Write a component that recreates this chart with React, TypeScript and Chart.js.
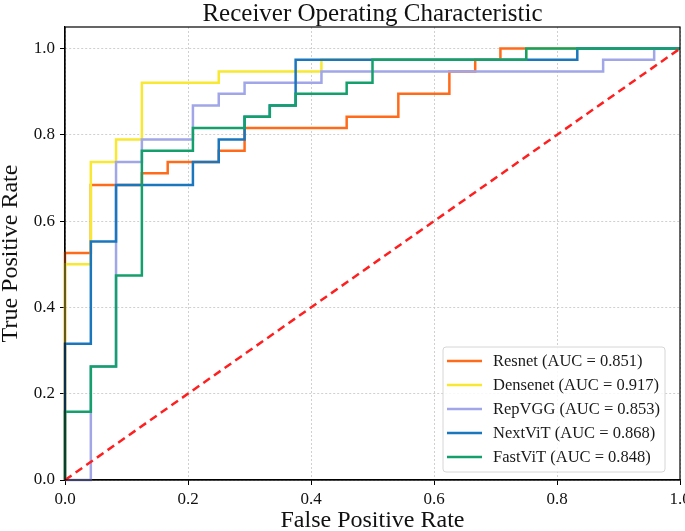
import React, { useEffect, useRef } from "react";
import { Chart, registerables } from "chart.js";

Chart.register(...registerables);

const chartTitle = "Receiver Operating Characteristic";
const modelNames = ["Resnet", "Densenet", "RepVGG", "NextViT", "FastViT"];
const aucValues = ["0.851", "0.917", "0.853", "0.868", "0.848"];
const modelColors = ["#ff6b1a", "#f8e832", "#a0a6e8", "#1a76bd", "#14a06c"];

const resnetFpr = [0, 0, 0.042, 0.125, 0.167, 0.25, 0.292, 0.458, 0.542, 0.625, 0.667, 0.708, 1.0];
const resnetTpr = [0, 0.526, 0.684, 0.711, 0.737, 0.763, 0.816, 0.842, 0.895, 0.947, 0.974, 1.0, 1.0];

const densenetFpr = [0, 0, 0.042, 0.083, 0.125, 0.25, 0.417, 0.75, 1.0];
const densenetTpr = [0, 0.5, 0.737, 0.789, 0.921, 0.947, 0.974, 1.0, 1.0];

const repvggFpr = [0, 0.042, 0.083, 0.125, 0.208, 0.25, 0.292, 0.417, 0.875, 0.958, 1.0];
const repvggTpr = [0, 0.263, 0.737, 0.789, 0.868, 0.895, 0.921, 0.947, 0.974, 1.0, 1.0];

const nextvitFpr = [0, 0, 0.042, 0.083, 0.208, 0.25, 0.292, 0.333, 0.375, 0.833, 1.0];
const nextvitTpr = [0, 0.316, 0.553, 0.684, 0.737, 0.789, 0.842, 0.868, 0.974, 1.0, 1.0];

const fastvitFpr = [0, 0, 0.042, 0.083, 0.125, 0.208, 0.292, 0.333, 0.375, 0.458, 0.5, 0.75, 1.0];
const fastvitTpr = [0, 0.158, 0.263, 0.474, 0.763, 0.816, 0.842, 0.868, 0.895, 0.921, 0.974, 1.0, 1.0];

const chanceFpr = [0, 1];
const chanceTpr = [0, 1];

const xTicks = [0, 0.2, 0.4, 0.6, 0.8, 1.0];
const yTicks = [0, 0.2, 0.4, 0.6, 0.8, 1.0];

const SERIF = "'Liberation Serif', 'Times New Roman', serif";

const curves = [
  [resnetFpr, resnetTpr],
  [densenetFpr, densenetTpr],
  [repvggFpr, repvggTpr],
  [nextvitFpr, nextvitTpr],
  [fastvitFpr, fastvitTpr],
];

const toPoints = (xs: number[], ys: number[]) => xs.map((x, i) => ({ x, y: ys[i] }));

const framePlugin = {
  id: "frameBox",
  afterDraw(chart: any) {
    const { ctx, chartArea: a } = chart;
    ctx.save();
    ctx.strokeStyle = "#000";
    ctx.lineWidth = 1.2;
    ctx.strokeRect(a.left, a.top, a.right - a.left, a.bottom - a.top);
    ctx.fillStyle = "#111";
    ctx.font = `25px ${SERIF}`;
    ctx.textAlign = "center";
    ctx.textBaseline = "alphabetic";
    ctx.fillText(chartTitle, (a.left + a.right) / 2, 21);
    ctx.restore();
  },
};

const insideLegendPlugin = {
  id: "insideLegend",
  afterDraw(chart: any) {
    const { ctx, chartArea: a } = chart;
    const items = chart.data.datasets.filter((d: any) => d.inLegend);
    const w = 222;
    const rowH = 24;
    const h = items.length * rowH + 5;
    const x0 = a.right - 15 - w;
    const y0 = a.bottom - 8 - h;
    ctx.save();
    ctx.beginPath();
    const r = 3;
    ctx.moveTo(x0 + r, y0);
    ctx.lineTo(x0 + w - r, y0);
    ctx.quadraticCurveTo(x0 + w, y0, x0 + w, y0 + r);
    ctx.lineTo(x0 + w, y0 + h - r);
    ctx.quadraticCurveTo(x0 + w, y0 + h, x0 + w - r, y0 + h);
    ctx.lineTo(x0 + r, y0 + h);
    ctx.quadraticCurveTo(x0, y0 + h, x0, y0 + h - r);
    ctx.lineTo(x0, y0 + r);
    ctx.quadraticCurveTo(x0, y0, x0 + r, y0);
    ctx.closePath();
    ctx.fillStyle = "rgba(255,255,255,0.85)";
    ctx.fill();
    ctx.strokeStyle = "#d6d6d6";
    ctx.lineWidth = 1;
    ctx.stroke();
    ctx.font = `16.5px ${SERIF}`;
    ctx.textBaseline = "middle";
    ctx.textAlign = "left";
    items.forEach((d: any, i: number) => {
      const cy = y0 + 14 + i * rowH;
      ctx.beginPath();
      ctx.strokeStyle = d.borderColor;
      ctx.lineWidth = 2.5;
      ctx.moveTo(x0 + 4, cy);
      ctx.lineTo(x0 + 39, cy);
      ctx.stroke();
      ctx.fillStyle = "#1a1a1a";
      ctx.fillText(d.label, x0 + 50, cy + 1);
    });
    ctx.restore();
  },
};

export default function App() {
  const canvasRef = useRef<HTMLCanvasElement | null>(null);

  useEffect(() => {
    document.body.style.margin = "0";
    const canvas = canvasRef.current;
    if (!canvas) return;

    const datasets: any[] = curves.map(([xs, ys], i) => ({
      label: `${modelNames[i]} (AUC = ${aucValues[i]})`,
      data: toPoints(xs, ys),
      borderColor: modelColors[i],
      backgroundColor: modelColors[i],
      borderWidth: 2.5,
      pointRadius: 0,
      stepped: "before",
      fill: false,
      clip: 5,
      order: curves.length + 1 - i,
      inLegend: true,
    }));
    datasets.push({
      label: "chance",
      data: toPoints(chanceFpr, chanceTpr),
      borderColor: "#ff1f1f",
      borderWidth: 2.5,
      borderDash: [8, 5],
      pointRadius: 0,
      fill: false,
      clip: 5,
      order: 1,
      inLegend: false,
    });

    const tickFont = { family: SERIF, size: 17 };
    const chart = new Chart(canvas, {
      type: "line",
      data: { datasets },
      options: {
        animation: false,
        responsive: true,
        maintainAspectRatio: false,
        layout: { padding: { left: 0, right: 5, top: 27, bottom: 0 } },
        plugins: {
          legend: { display: false },
          tooltip: { enabled: false },
          title: { display: false },
        },
        scales: {
          x: {
            type: "linear",
            min: 0,
            max: 1,
            afterBuildTicks: (s: any) => {
              s.ticks = xTicks.map((v) => ({ value: v }));
            },
            afterFit: (s: any) => {
              s.height = 51;
              s.paddingRight = 0;
              s.paddingLeft = 0;
            },
            ticks: {
              color: "#111",
              font: tickFont,
              padding: 4,
              maxRotation: 0,
              callback: (v: any) => Number(v).toFixed(1),
            },
            grid: { color: "#c4c4c4", lineWidth: 0.8, tickLength: 5, tickColor: "#000", tickWidth: 1 },
            border: { display: true, color: "#000", width: 1.2, dash: [2, 2] },
            title: {
              display: true,
              text: "False Positive Rate",
              color: "#111",
              font: { family: SERIF, size: 24, lineHeight: 0.85 },
              padding: { top: 0, bottom: 0 },
            },
          },
          y: {
            type: "linear",
            min: 0,
            max: 1.05,
            afterBuildTicks: (s: any) => {
              s.ticks = yTicks.map((v) => ({ value: v }));
            },
            afterFit: (s: any) => {
              s.width = 65;
              s.paddingTop = 0;
              s.paddingBottom = 0;
            },
            ticks: {
              color: "#111",
              font: tickFont,
              padding: 5,
              callback: (v: any) => Number(v).toFixed(1),
            },
            grid: { color: "#c4c4c4", lineWidth: 0.8, tickLength: 5, tickColor: "#000", tickWidth: 1 },
            border: { display: true, color: "#000", width: 1.2, dash: [2, 2] },
            title: {
              display: true,
              text: "True Positive Rate",
              color: "#111",
              font: { family: SERIF, size: 24, lineHeight: 0.9 },
              padding: { top: 0, bottom: 0 },
            },
          },
        },
      },
      plugins: [framePlugin, insideLegendPlugin],
    });

    return () => chart.destroy();
  }, []);

  return (
    <div style={{ width: 685, height: 531, position: "relative" }}>
      <canvas ref={canvasRef} />
    </div>
  );
}
